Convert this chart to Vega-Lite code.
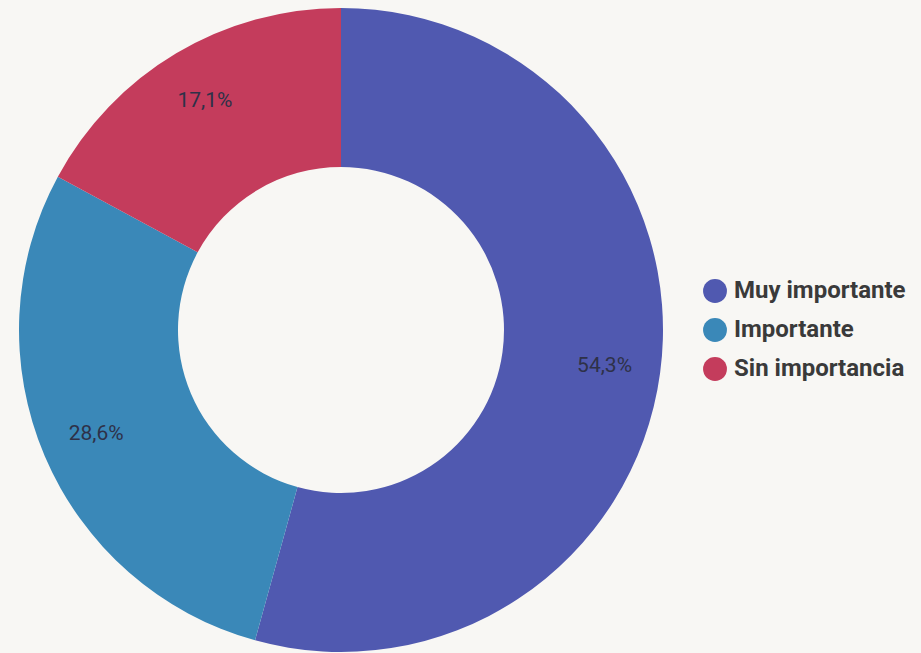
{
  "$schema": "https://vega.github.io/schema/vega-lite/v6.json",
  "width": 682,
  "height": 660,
  "padding": {"left": 0, "top": 0, "right": 30, "bottom": 0},
  "autosize": {"type": "pad"},
  "background": "#f8f7f4",
  "data": {
    "values": [
      {"categoria": "Muy importante", "valor": 54.3, "etiqueta": "54,3%", "orden": 1},
      {"categoria": "Importante", "valor": 28.6, "etiqueta": "28,6%", "orden": 2},
      {"categoria": "Sin importancia", "valor": 17.1, "etiqueta": "17,1%", "orden": 3}
    ]
  },
  "encoding": {
    "theta": {"field": "valor", "type": "quantitative", "stack": true},
    "order": {"field": "orden", "type": "quantitative"}
  },
  "layer": [
    {
      "mark": {"type": "arc", "innerRadius": 163, "outerRadius": 322},
      "encoding": {
        "color": {
          "field": "categoria",
          "type": "nominal",
          "sort": ["Muy importante", "Importante", "Sin importancia"],
          "scale": {
            "domain": ["Muy importante", "Importante", "Sin importancia"],
            "range": ["#5059b0", "#3a88b8", "#c43c5c"]
          },
          "legend": {
            "title": null,
            "orient": "none",
            "legendX": 703,
            "legendY": 279,
            "symbolType": "circle",
            "symbolSize": 570,
            "symbolStrokeWidth": 0,
            "labelFontSize": 24,
            "labelFont": "Roboto",
            "labelFontWeight": "bold",
            "labelColor": "#3a3a3a",
            "labelOffset": 7,
            "rowPadding": 15,
            "labelLimit": 300
          }
        }
      }
    },
    {
      "mark": {"type": "text", "radius": 266, "fontSize": 21, "font": "Roboto"},
      "encoding": {
        "text": {"field": "etiqueta", "type": "nominal"},
        "color": {"value": "#2e3148"}
      }
    }
  ]
}
